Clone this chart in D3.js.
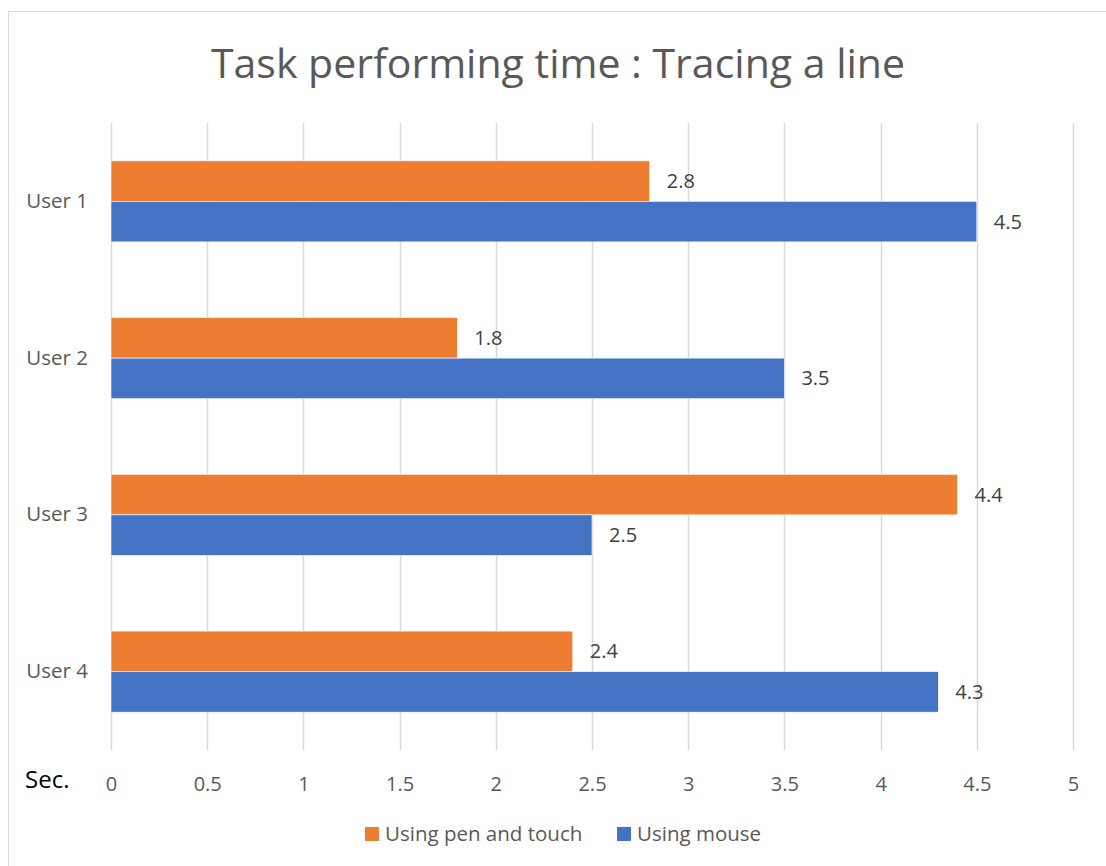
<!DOCTYPE html>
<html>
<head>
<meta charset="utf-8">
<script src="https://cdn.jsdelivr.net/npm/d3@7"></script>
<style>
  body { margin: 0; background: #fff; }
  text { font-family: "Open Sans", "Noto Sans", sans-serif; }
</style>
</head>
<body>
<svg width="1106" height="866"></svg>
<script>
var users = ["User 1", "User 2", "User 3", "User 4"];
var seriesNames = ["Using pen and touch", "Using mouse"];
var penTouch = [2.8, 1.8, 4.4, 2.4];
var mouse = [4.5, 3.5, 2.5, 4.3];
var xTicks = [0, 0.5, 1, 1.5, 2, 2.5, 3, 3.5, 4, 4.5, 5];
var colors = ["#ED7D31", "#4472C4"];

var svg = d3.select("svg");
var width = +svg.attr("width");
var height = +svg.attr("height");

// chart border (runs off the right / bottom edge)
svg.append("rect")
  .attr("x", 8.5).attr("y", 11.5)
  .attr("width", 1200).attr("height", 1000)
  .style("fill", "none")
  .style("stroke", "#d9d9d9")
  .style("stroke-width", 1);

var padding = { top: 123, bottom: 116, left: 111, right: 33 };
var canvasWidth = width - padding.left - padding.right;
var canvasHeight = height - padding.top - padding.bottom;

var canvas = svg.append("g")
  .attr("transform", "translate(" + padding.left + "," + padding.top + ")");

var x = d3.scaleLinear().domain([0, 5]).range([0, canvasWidth]);
var y = d3.scaleBand().domain(users).range([0, canvasHeight]).paddingInner(0.483).paddingOuter(0.2415);
var inner = d3.scaleBand().domain([0, 1]).range([0, y.bandwidth()]);

// gridlines
canvas.selectAll("line.grid")
  .data(xTicks)
  .enter()
  .append("line")
  .attr("class", "grid")
  .attr("x1", function (d) { return Math.round(x(d)) + 0.5; })
  .attr("x2", function (d) { return Math.round(x(d)) + 0.5; })
  .attr("y1", 0)
  .attr("y2", canvasHeight)
  .style("stroke", "#d9d9d9")
  .style("stroke-width", 1.5);

// x axis labels
var xAxis = d3.axisBottom(x).tickValues(xTicks).tickSize(0).tickPadding(27)
  .tickFormat(function (d) { return d; });
var gX = canvas.append("g")
  .attr("transform", "translate(0," + canvasHeight + ")")
  .call(xAxis);
gX.select(".domain").remove();
gX.selectAll("text").style("font-size", "20px").style("fill", "#595959");

// y axis labels
var yAxis = d3.axisLeft(y).tickSize(0).tickPadding(23);
var gY = canvas.append("g").call(yAxis);
gY.select(".domain").remove();
gY.selectAll("text").style("font-size", "20.5px").style("fill", "#595959")
  .attr("dy", "0.32em");

// bars
var rows = users.map(function (u, i) {
  return [{ user: u, s: 0, v: penTouch[i] }, { user: u, s: 1, v: mouse[i] }];
});
var flat = [].concat.apply([], rows);

canvas.selectAll("rect.bar")
  .data(flat)
  .enter()
  .append("rect")
  .attr("class", "bar")
  .attr("x", 0)
  .attr("y", function (d) { return y(d.user) + inner(d.s); })
  .attr("width", function (d) { return x(d.v); })
  .attr("height", inner.bandwidth())
  .style("fill", function (d) { return colors[d.s]; })
  .style("stroke", "#fff")
  .style("stroke-width", 0.6);

// data labels
canvas.selectAll("text.lbl")
  .data(flat)
  .enter()
  .append("text")
  .attr("class", "lbl")
  .attr("x", function (d) { return x(d.v) + 17; })
  .attr("y", function (d) { return y(d.user) + inner(d.s) + inner.bandwidth() / 2; })
  .attr("dy", "0.35em")
  .style("font-size", "20px")
  .style("fill", "#404040")
  .text(function (d) { return d.v; });

// title
svg.append("text")
  .attr("x", 558)
  .attr("y", 78)
  .attr("text-anchor", "middle")
  .style("font-size", "41px")
  .style("fill", "#595959")
  .text("Task performing time : Tracing a line");

// "Sec." label
svg.append("text")
  .attr("x", 25)
  .attr("y", 788)
  .style("font-size", "24px")
  .style("fill", "#000")
  .text("Sec.");

// legend
var legend = svg.append("g").attr("transform", "translate(365,834)");
var legX = [0, 252];
var items = legend.selectAll("g.item")
  .data(seriesNames)
  .enter()
  .append("g")
  .attr("class", "item")
  .attr("transform", function (d, i) { return "translate(" + legX[i] + ",0)"; });
items.append("rect")
  .attr("x", 0).attr("y", -7)
  .attr("width", 14).attr("height", 14)
  .style("fill", function (d, i) { return colors[i]; });
items.append("text")
  .attr("x", 20)
  .attr("dy", "0.35em")
  .style("font-size", "20.5px")
  .style("fill", "#595959")
  .text(function (d) { return d; });
</script>
</body>
</html>
